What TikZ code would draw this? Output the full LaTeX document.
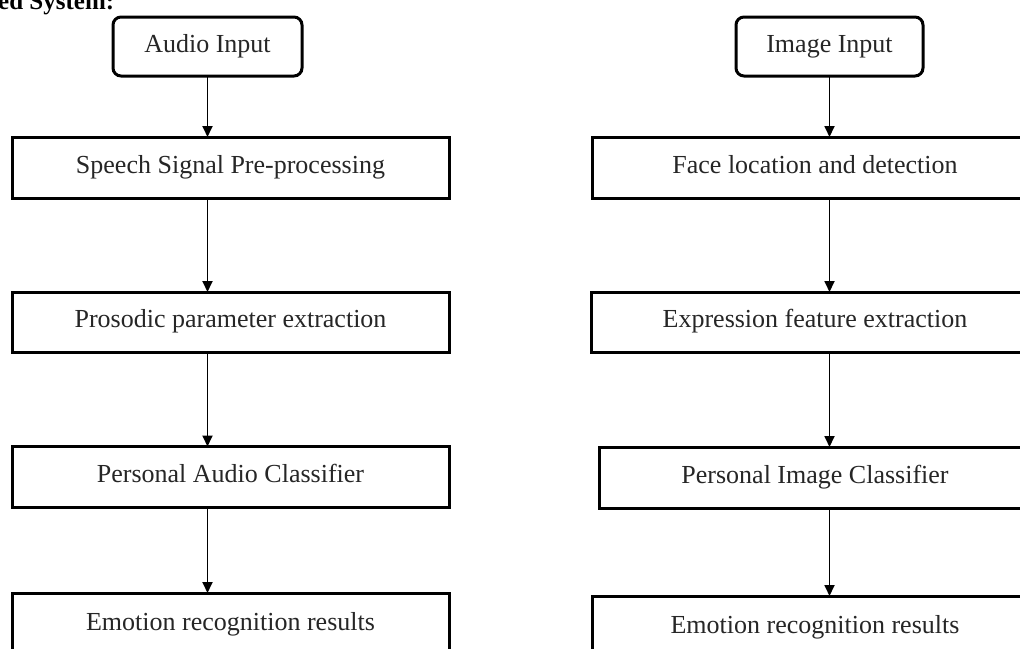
\documentclass[tikz,border=0pt]{standalone}
\usepackage{fontspec}
\setmainfont{Liberation Serif}
\usetikzlibrary{arrows.meta}
\tikzset{
  box/.style={draw=black, line width=3pt, fill=white, inner sep=0pt, outer sep=0pt,
    font=\fontsize{26}{31}\selectfont, text=black!85, text height=17pt, text depth=6pt},
  startbox/.style={box, rounded corners=8pt},
  arr/.style={draw=black, line width=1.8pt, -{Triangle[length=11pt,width=10pt]}},
}
\begin{document}
\begin{tikzpicture}[x=1pt,y=-1pt]
\useasboundingbox (0,0) rectangle (1020,648);
\fill[white] (0,0) rectangle (1020,648);

\node[anchor=base west, font=\bfseries\fontsize{25}{30}\selectfont, inner sep=0pt] (title) at (-2,9.5) {ed System:};

% left column
\node[startbox, minimum width=189pt, minimum height=59pt] (ain) at (207.5,46.5) {Audio Input};
\node[box, minimum width=437pt, minimum height=61pt] (sp) at (230.5,167.5) {Speech Signal Pre-processing};
\node[box, minimum width=437pt, minimum height=60pt] (pr) at (230.5,322) {Prosodic parameter extraction};
\node[box, minimum width=437pt, minimum height=61pt] (pa) at (230.5,477) {Personal Audio Classifier};
\node[box, minimum width=437pt, minimum height=64pt] (erl) at (230.5,625) {Emotion recognition results};

% right column
\node[startbox, minimum width=187pt, minimum height=59pt] (iin) at (829.5,46.5) {Image Input};
\node[box, minimum width=446pt, minimum height=61pt] (fl) at (815,167.5) {Face location and detection};
\node[box, minimum width=448pt, minimum height=60pt] (ex) at (815,322) {Expression feature extraction};
\node[box, minimum width=432pt, minimum height=61pt] (pi) at (815,477.5) {Personal Image Classifier};
\node[box, minimum width=446pt, minimum height=64pt] (err) at (815,628) {Emotion recognition results};

% connectors
\draw[arr] (ain.south) -- (ain.south |- sp.north);
\draw[arr] (ain.south |- sp.south) -- (ain.south |- pr.north);
\draw[arr] (ain.south |- pr.south) -- (ain.south |- pa.north);
\draw[arr] (ain.south |- pa.south) -- (ain.south |- erl.north);

\draw[arr] (iin.south) -- (iin.south |- fl.north);
\draw[arr] (iin.south |- fl.south) -- (iin.south |- ex.north);
\draw[arr] (iin.south |- ex.south) -- (iin.south |- pi.north);
\draw[arr] (iin.south |- pi.south) -- (iin.south |- err.north);
\end{tikzpicture}
\end{document}
